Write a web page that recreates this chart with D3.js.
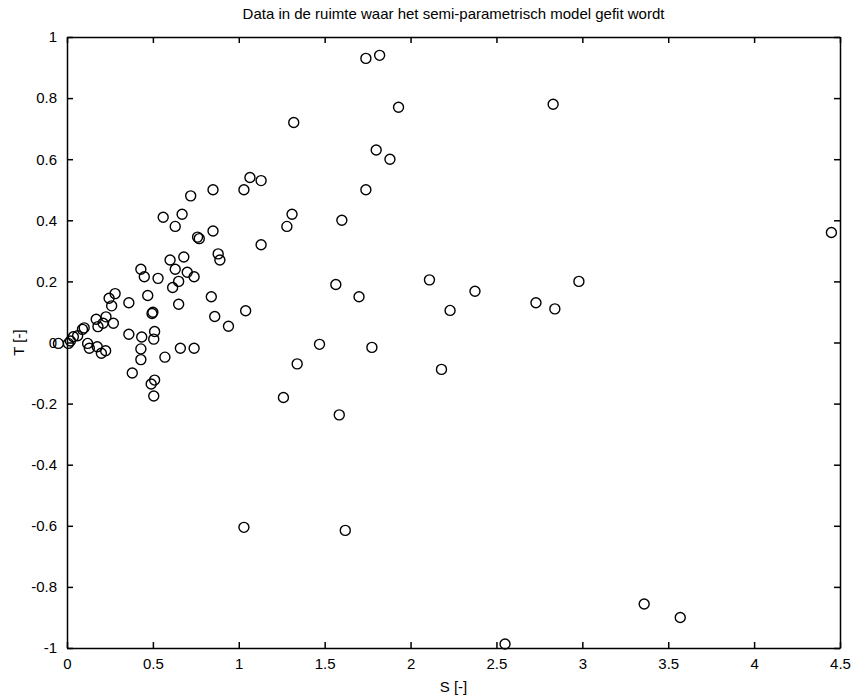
<!DOCTYPE html>
<html lang="en">
<head>
  <meta charset="UTF-8">
  <title>Data in de ruimte</title>
  <style>
    body {
      margin: 0;
      background: #fff;
      font-family: 'Liberation Sans', Arial, sans-serif;
    }
    .axis text {
      font-size: 15px;
      fill: #000;
    }
    .axis path, .axis line {
      stroke: #000;
      stroke-width: 1.5px;
    }
    .dot {
      fill: none;
      stroke: #000;
      stroke-width: 1.4px;
    }
    .label {
      font-size: 15px;
      fill: #000;
    }
  </style>
</head>
<body>
  <div id="chart"></div>

  <script src="https://d3js.org/d3.v7.min.js"></script>
  <script>
    // S and T values
    const sVals = [
      1.74, 1.82, 2.83, 1.93, 1.32, 1.80, 1.88, 1.065, 1.13, 1.74,
      1.03, 0.85, 0.72, 1.31, 0.56, 0.67, 1.28, 1.60, 4.45, 0.63,
      0.85, 0.76, 0.77, 1.13, 0.60, 0.63, 0.68, 0.70, 0.74, 0.65,
      0.615, 0.65, 0.88, 0.89, 0.84, 0.86, 0.94, 1.04, 0.43, 0.45,
      0.53, 0.47, 0.495, 0.50, 0.36, 0.36, 0.435, 0.43, 0.43, 0.38,
      0.51, 0.505, 0.57, 0.66, 0.74, 0.49, 0.51, 0.505, 0.245, 0.28,
      0.26, 0.17, 0.18, 0.21, 0.227, 0.27, 0.12, 0.13, 0.176, 0.20,
      0.225, 0.09, 0.10, 0.062, 0.037, 0.02, 0.008, -0.05, 1.47, 1.775,
      1.34, 1.26, 1.585, 1.565, 1.70, 2.11, 2.375, 2.23, 2.18, 2.98,
      2.73, 2.84, 1.62, 1.03, 2.55, 3.36, 3.57
    ];
    const tVals = [
      0.93, 0.94, 0.78, 0.77, 0.72, 0.63, 0.60, 0.54, 0.53, 0.50,
      0.50, 0.50, 0.48, 0.42, 0.41, 0.42, 0.38, 0.40, 0.36, 0.38,
      0.365, 0.345, 0.34, 0.32, 0.27, 0.24, 0.28, 0.23, 0.215, 0.20,
      0.18, 0.125, 0.29, 0.27, 0.15, 0.085, 0.053, 0.104, 0.24, 0.215,
      0.21, 0.154, 0.095, 0.099, 0.13, 0.027, 0.018, -0.021, -0.056, -0.10,
      0.036, 0.011, -0.048, -0.019, -0.019, -0.136, -0.123, -0.175, 0.145, 0.16,
      0.12, 0.076, 0.052, 0.063, 0.084, 0.063, -0.003, -0.019, -0.014, -0.035,
      -0.027, 0.043, 0.048, 0.022, 0.019, 0.005, -0.003, -0.003, -0.006, -0.016,
      -0.07, -0.18, -0.237, 0.19, 0.15, 0.205, 0.168, 0.105, -0.088, 0.20,
      0.13, 0.11, -0.615, -0.605, -0.987, -0.856, -0.90
    ];

    const xTicks = [0, 0.5, 1, 1.5, 2, 2.5, 3, 3.5, 4, 4.5];
    const yTicks = [-1, -0.8, -0.6, -0.4, -0.2, 0, 0.2, 0.4, 0.6, 0.8, 1];

    const titleText = 'Data in de ruimte waar het semi-parametrisch model gefit wordt';
    const xLabel = 'S [-]';
    const yLabel = 'T [-]';

    const width = 851;
    const height = 699;
    const margin = { top: 37, right: 11, bottom: 51, left: 67 };

    const svg = d3.select('#chart').append('svg')
      .attr('width', width)
      .attr('height', height);

    const x = d3.scaleLinear().domain([0, 4.5]).range([margin.left, width - margin.right]);
    const y = d3.scaleLinear().domain([-1, 1]).range([height - margin.bottom, margin.top]);

    const fmt = d => String(d);

    // bottom + left axes with labels, ticks pointing inward
    svg.append('g')
      .attr('class', 'axis')
      .attr('transform', `translate(0,${height - margin.bottom})`)
      .call(d3.axisBottom(x).tickValues(xTicks).tickFormat(fmt)
        .tickSizeInner(-6).tickSizeOuter(0).tickPadding(10));

    svg.append('g')
      .attr('class', 'axis')
      .attr('transform', `translate(${margin.left},0)`)
      .call(d3.axisLeft(y).tickValues(yTicks).tickFormat(fmt)
        .tickSizeInner(-6).tickSizeOuter(0).tickPadding(10));

    // top + right axes, ticks only (box on)
    svg.append('g')
      .attr('class', 'axis')
      .attr('transform', `translate(0,${margin.top})`)
      .call(d3.axisTop(x).tickValues(xTicks).tickFormat('')
        .tickSizeInner(-6).tickSizeOuter(0));

    svg.append('g')
      .attr('class', 'axis')
      .attr('transform', `translate(${width - margin.right},0)`)
      .call(d3.axisRight(y).tickValues(yTicks).tickFormat('')
        .tickSizeInner(-6).tickSizeOuter(0));

    // scatter
    svg.selectAll('.dot')
      .data(sVals.map((s, i) => ({ s: s, t: tVals[i] })))
      .enter().append('circle')
      .attr('class', 'dot')
      .attr('cx', d => x(d.s))
      .attr('cy', d => y(d.t))
      .attr('r', 5);

    // title and axis labels
    svg.append('text')
      .attr('class', 'label')
      .attr('x', (margin.left + width - margin.right) / 2)
      .attr('y', 19)
      .attr('text-anchor', 'middle')
      .text(titleText);

    svg.append('text')
      .attr('class', 'label')
      .attr('x', (margin.left + width - margin.right) / 2)
      .attr('y', 692)
      .attr('text-anchor', 'middle')
      .text(xLabel);

    svg.append('text')
      .attr('class', 'label')
      .attr('transform', `translate(24,${(margin.top + height - margin.bottom) / 2}) rotate(-90)`)
      .attr('text-anchor', 'middle')
      .text(yLabel);
  </script>
</body>
</html>
